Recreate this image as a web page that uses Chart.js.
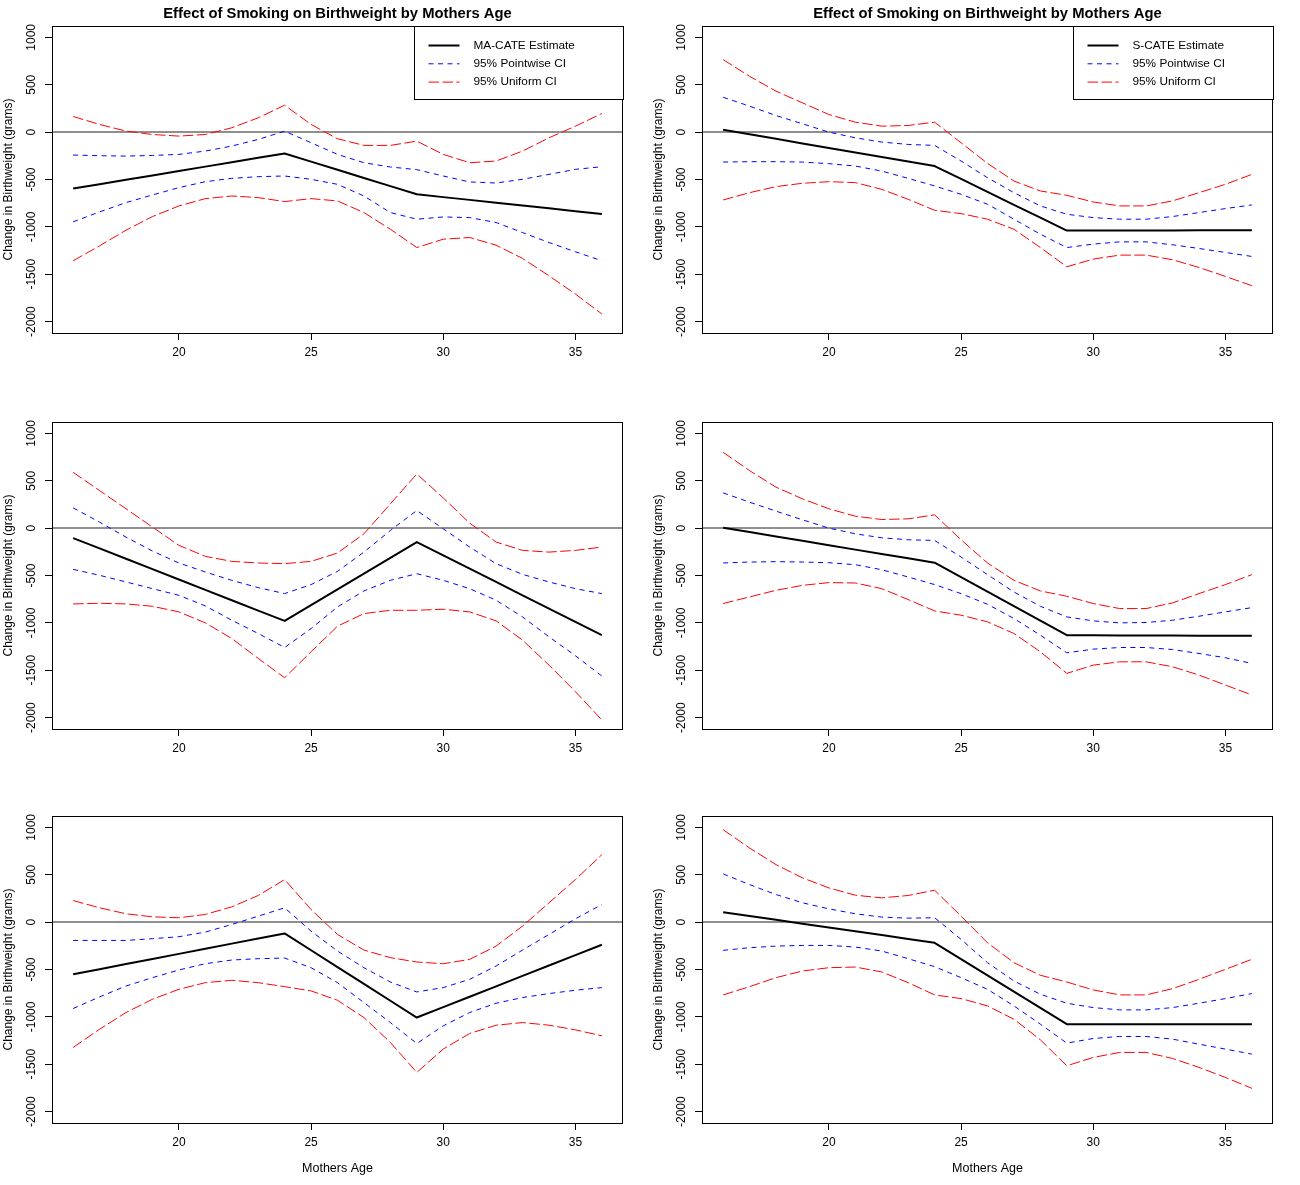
<!DOCTYPE html>
<html>
<head>
<meta charset="utf-8">
<script src="https://cdn.jsdelivr.net/npm/chart.js@4.4.1/dist/chart.umd.min.js"></script>
<style>
html,body{margin:0;padding:0;background:#fff;}
#wrap{position:relative;width:1300px;height:1185px;overflow:hidden;background:#fff;}
#wrap canvas{position:absolute;display:block;}
</style>
</head>
<body>
<div id="wrap"></div>
<script>
// ---------------- data ----------------
const ages = [16,17,18,19,20,21,22,23,24,25,26,27,28,29,30,31,32,33,34,35,36];
const xTicks = [20,25,30,35];
const yTicks = [-2000,-1500,-1000,-500,0,500,1000];
const chartTitle = "Effect of Smoking on Birthweight by Mothers Age";
const xTitle = "Mothers Age";
const yTitle = "Change in Birthweight (grams)";
const estLabelLeft = "MA-CATE Estimate";
const estLabelRight = "S-CATE Estimate";
const pwLabel = "95% Pointwise CI";
const unLabel = "95% Uniform CI";

// Panel 1 (top left, MA-CATE)
const p1Est  = [-596,-550,-503,-457,-410,-364,-318,-271,-225,-311,-397,-484,-570,-656,-686,-715,-745,-775,-804,-834,-863];
const p1PwHi = [-242,-249,-253,-246,-235,-200,-147,-77,10,-112,-235,-323,-368,-396,-463,-526,-537,-498,-446,-393,-365];
const p1PwLo = [-947,-842,-744,-663,-586,-523,-488,-470,-463,-498,-551,-674,-849,-919,-895,-902,-954,-1060,-1165,-1263,-1358];
const p1UnHi = [165,81,11,-25,-42,-25,46,151,284,81,-70,-140,-140,-95,-235,-323,-305,-200,-60,63,196];
const p1UnLo = [-1358,-1200,-1035,-891,-779,-702,-674,-691,-733,-702,-726,-849,-1025,-1218,-1130,-1112,-1193,-1333,-1516,-1709,-1919];

// Panel 2 (top right, S-CATE)
const p2Est  = [25,-23,-71,-119,-167,-214,-262,-310,-358,-494,-630,-767,-903,-1039,-1038,-1038,-1037,-1037,-1036,-1036,-1035];
const p2PwHi = [368,274,175,88,0,-60,-105,-130,-140,-305,-481,-639,-779,-867,-902,-919,-919,-891,-849,-807,-768];
const p2PwLo = [-316,-312,-312,-316,-333,-358,-411,-488,-568,-656,-761,-919,-1077,-1218,-1182,-1158,-1158,-1189,-1228,-1270,-1312];
const p2UnHi = [765,589,432,309,186,105,63,70,105,-112,-330,-516,-621,-667,-737,-779,-779,-726,-639,-551,-446];
const p2UnLo = [-716,-639,-575,-540,-523,-533,-604,-709,-825,-860,-919,-1025,-1218,-1421,-1340,-1298,-1298,-1347,-1428,-1523,-1621];

// Panel 3 (middle left)
const p3Est  = [-105,-214,-323,-433,-542,-651,-761,-870,-979,-813,-646,-480,-313,-147,-287,-428,-568,-709,-849,-990,-1130];
const p3PwHi = [214,63,-95,-242,-368,-463,-551,-628,-691,-596,-456,-253,-25,186,-7,-200,-375,-488,-568,-639,-691];
const p3PwLo = [-435,-498,-568,-639,-709,-821,-972,-1112,-1260,-1060,-832,-663,-551,-481,-551,-639,-761,-937,-1147,-1347,-1561];
const p3UnHi = [589,396,204,11,-182,-298,-351,-368,-375,-351,-263,-60,256,572,319,53,-147,-235,-253,-235,-200];
const p3UnLo = [-800,-793,-800,-825,-884,-1000,-1165,-1375,-1579,-1305,-1035,-902,-867,-867,-856,-884,-979,-1182,-1446,-1726,-2025];

// Panel 4 (middle right)
const p4Est  = [4,-42,-88,-134,-180,-227,-273,-319,-365,-518,-671,-824,-977,-1130,-1131,-1132,-1133,-1134,-1135,-1136,-1137];
const p4PwHi = [372,274,179,88,0,-60,-102,-123,-130,-305,-491,-674,-825,-937,-979,-1000,-996,-972,-930,-884,-839];
const p4PwLo = [-368,-358,-354,-358,-365,-386,-439,-516,-596,-691,-804,-954,-1130,-1316,-1277,-1260,-1260,-1281,-1323,-1368,-1428];
const p4UnHi = [800,607,432,309,204,126,91,98,140,-123,-368,-551,-663,-719,-796,-849,-849,-789,-691,-596,-491];
const p4UnLo = [-796,-726,-656,-604,-575,-579,-639,-754,-874,-919,-989,-1112,-1305,-1533,-1446,-1411,-1411,-1463,-1551,-1656,-1761];

// Panel 5 (bottom left)
const p5Est  = [-551,-497,-443,-389,-335,-281,-227,-173,-119,-297,-474,-652,-830,-1007,-897,-788,-678,-568,-458,-349,-239];
const p5PwHi = [-193,-193,-193,-175,-154,-105,-25,63,151,-95,-305,-481,-632,-737,-691,-604,-463,-295,-130,35,186];
const p5PwLo = [-912,-789,-674,-586,-505,-439,-400,-386,-379,-481,-639,-849,-1060,-1281,-1095,-954,-856,-796,-754,-719,-691];
const p5UnHi = [228,151,88,56,46,81,161,281,449,133,-130,-295,-375,-421,-439,-393,-253,-42,204,449,712];
const p5UnLo = [-1323,-1130,-954,-814,-709,-639,-614,-639,-681,-726,-825,-1007,-1270,-1586,-1340,-1175,-1088,-1060,-1088,-1137,-1200];

// Panel 6 (bottom right)
const p6Est  = [105,65,24,-16,-56,-97,-137,-178,-218,-390,-562,-733,-905,-1077,-1077,-1077,-1077,-1077,-1077,-1077,-1077];
const p6PwHi = [509,396,291,204,140,88,53,42,46,-182,-428,-621,-761,-856,-902,-926,-926,-902,-856,-807,-754];
const p6PwLo = [-298,-270,-253,-246,-246,-263,-305,-386,-470,-586,-709,-884,-1077,-1277,-1228,-1207,-1207,-1235,-1288,-1340,-1393];
const p6UnHi = [975,782,607,467,361,284,256,281,337,63,-218,-428,-561,-632,-716,-768,-768,-702,-604,-498,-393];
const p6UnLo = [-768,-681,-586,-516,-481,-474,-526,-639,-768,-807,-884,-1025,-1242,-1516,-1428,-1375,-1375,-1439,-1533,-1639,-1754];

// ---------------- layout / style ----------------
const FONT = "'Liberation Sans', Arial, Helvetica, sans-serif";
Chart.defaults.font.family = FONT;
Chart.defaults.color = '#000';

const CELL_W = 650, CELL_H = 395;
const PAD_TOP = 26, PAD_RIGHT = 27, AXIS_W = 52, AXIS_H = 62;

const panels = [
  {col:0, top:0,   est:p1Est, pwHi:p1PwHi, pwLo:p1PwLo, unHi:p1UnHi, unLo:p1UnLo, estLabel:estLabelLeft,  title:true,  legend:true,  xlab:false},
  {col:1, top:0,   est:p2Est, pwHi:p2PwHi, pwLo:p2PwLo, unHi:p2UnHi, unLo:p2UnLo, estLabel:estLabelRight, title:true,  legend:true,  xlab:false},
  {col:0, top:396, est:p3Est, pwHi:p3PwHi, pwLo:p3PwLo, unHi:p3UnHi, unLo:p3UnLo, estLabel:estLabelLeft,  title:false, legend:false, xlab:false},
  {col:1, top:396, est:p4Est, pwHi:p4PwHi, pwLo:p4PwLo, unHi:p4UnHi, unLo:p4UnLo, estLabel:estLabelRight, title:false, legend:false, xlab:false},
  {col:0, top:790, est:p5Est, pwHi:p5PwHi, pwLo:p5PwLo, unHi:p5UnHi, unLo:p5UnLo, estLabel:estLabelLeft,  title:false, legend:false, xlab:true},
  {col:1, top:790, est:p6Est, pwHi:p6PwHi, pwLo:p6PwLo, unHi:p6UnHi, unLo:p6UnLo, estLabel:estLabelRight, title:false, legend:false, xlab:true}
];

const BLUE_DASH = [5, 4.5];
const RED_DASH = [10.5, 3.5];

const rPlot = {
  id: 'rPlot',
  beforeDatasetsDraw(chart) {
    const {ctx, chartArea: a, scales: {y}} = chart;
    const y0 = y.getPixelForValue(0);
    ctx.save();
    ctx.strokeStyle = '#6a6a6a';
    ctx.lineWidth = 1.5;
    ctx.beginPath();
    ctx.moveTo(a.left, y0);
    ctx.lineTo(a.right, y0);
    ctx.stroke();
    ctx.restore();
  },
  afterDraw(chart, args, opts) {
    const {ctx, chartArea: a, scales: {y}} = chart;
    ctx.save();
    // box
    ctx.strokeStyle = '#000';
    ctx.lineWidth = 1;
    ctx.setLineDash([]);
    ctx.strokeRect(Math.round(a.left) + 0.5, Math.round(a.top) + 0.5,
                   Math.round(a.right - a.left) - 1, Math.round(a.bottom - a.top));
    // y tick labels (rotated, R style)
    ctx.fillStyle = '#000';
    ctx.font = '12px ' + FONT;
    ctx.textAlign = 'center';
    ctx.textBaseline = 'middle';
    y.ticks.forEach(t => {
      const py = y.getPixelForValue(t.value);
      ctx.save();
      ctx.translate(a.left - 20, py);
      ctx.rotate(-Math.PI / 2);
      ctx.fillText(String(t.value), 0, 0);
      ctx.restore();
    });
    // main title
    if (opts.title) {
      ctx.font = 'bold 14.8px ' + FONT;
      ctx.textAlign = 'center';
      ctx.textBaseline = 'middle';
      ctx.fillText(opts.title, (a.left + a.right) / 2, 14);
    }
    // legend
    if (opts.legend) {
      const items = chart.data.datasets.filter(d => d.inLegend);
      ctx.font = '11.8px ' + FONT;
      const tw = Math.max(...items.map(d => ctx.measureText(d.label).width));
      const right = Math.round(a.right) + 0.5;
      const top = Math.round(a.top) + 0.5;
      const left = Math.round(right - (59 + tw + 49)) + 0.5;
      const h = 73;
      ctx.fillStyle = '#fff';
      ctx.fillRect(left, top, right - left, h);
      ctx.strokeStyle = '#000';
      ctx.lineWidth = 1;
      ctx.strokeRect(left, top, right - left, h);
      items.forEach((d, i) => {
        const ry = top + 19 + i * 18.3;
        ctx.save();
        ctx.strokeStyle = d.borderColor;
        ctx.lineWidth = d.borderWidth;
        ctx.setLineDash(d.borderDash || []);
        ctx.beginPath();
        ctx.moveTo(left + 14, ry);
        ctx.lineTo(left + 45, ry);
        ctx.stroke();
        ctx.restore();
        ctx.fillStyle = '#000';
        ctx.textAlign = 'left';
        ctx.textBaseline = 'middle';
        ctx.fillText(d.label, left + 59, ry);
      });
    }
    ctx.restore();
  }
};

const wrap = document.getElementById('wrap');

panels.forEach(p => {
  const cv = document.createElement('canvas');
  cv.width = CELL_W; cv.height = CELL_H;
  cv.style.left = (p.col * CELL_W) + 'px';
  cv.style.top = p.top + 'px';
  cv.style.width = CELL_W + 'px';
  cv.style.height = CELL_H + 'px';
  wrap.appendChild(cv);

  const pts = arr => ages.map((a, i) => ({x: a, y: arr[i]}));
  const line = (label, arr, color, width, dash, inLegend) => ({
    label, data: pts(arr), borderColor: color, backgroundColor: color,
    borderWidth: width, borderDash: dash, pointRadius: 0, pointHoverRadius: 0,
    tension: 0, fill: false, inLegend, borderCapStyle: 'butt', borderJoinStyle: 'round'
  });

  new Chart(cv, {
    type: 'line',
    data: {
      datasets: [
        line(p.estLabel, p.est, '#000000', 2, [], true),
        line(pwLabel, p.pwHi, '#0000ff', 1, BLUE_DASH, true),
        line(pwLabel, p.pwLo, '#0000ff', 1, BLUE_DASH, false),
        line(unLabel, p.unHi, '#ff0000', 1, RED_DASH, true),
        line(unLabel, p.unLo, '#ff0000', 1, RED_DASH, false)
      ]
    },
    options: {
      responsive: false,
      animation: false,
      devicePixelRatio: 1,
      events: [],
      layout: {padding: {top: PAD_TOP, right: PAD_RIGHT, left: 0, bottom: 0}},
      plugins: {
        legend: {display: false},
        tooltip: {enabled: false},
        title: {display: false},
        rPlot: {title: p.title ? chartTitle : null, legend: p.legend}
      },
      scales: {
        x: {
          type: 'linear', position: 'bottom', min: 15.2, max: 36.8,
          afterBuildTicks: s => { s.ticks = xTicks.map(v => ({value: v})); },
          afterFit: s => { s.height = AXIS_H; },
          grid: {display: true, drawOnChartArea: false, drawTicks: true, tickLength: 7, color: '#000', lineWidth: 1},
          border: {display: false},
          ticks: {font: {size: 12}, color: '#000', padding: 5, maxRotation: 0, autoSkip: false},
          title: {display: p.xlab, text: xTitle, font: {size: 12.5}, color: '#000', padding: {top: 0, bottom: 9}}
        },
        y: {
          type: 'linear', position: 'left', min: -2120, max: 1120,
          afterBuildTicks: s => { s.ticks = yTicks.map(v => ({value: v})); },
          afterFit: s => { s.width = AXIS_W; },
          grid: {display: true, drawOnChartArea: false, drawTicks: true, tickLength: 7, color: '#000', lineWidth: 1},
          border: {display: false},
          ticks: {display: false},
          title: {display: true, text: yTitle, font: {size: 12}, color: '#000', padding: {top: 1, bottom: 0}}
        }
      }
    },
    plugins: [rPlot]
  });
});
</script>
</body>
</html>
